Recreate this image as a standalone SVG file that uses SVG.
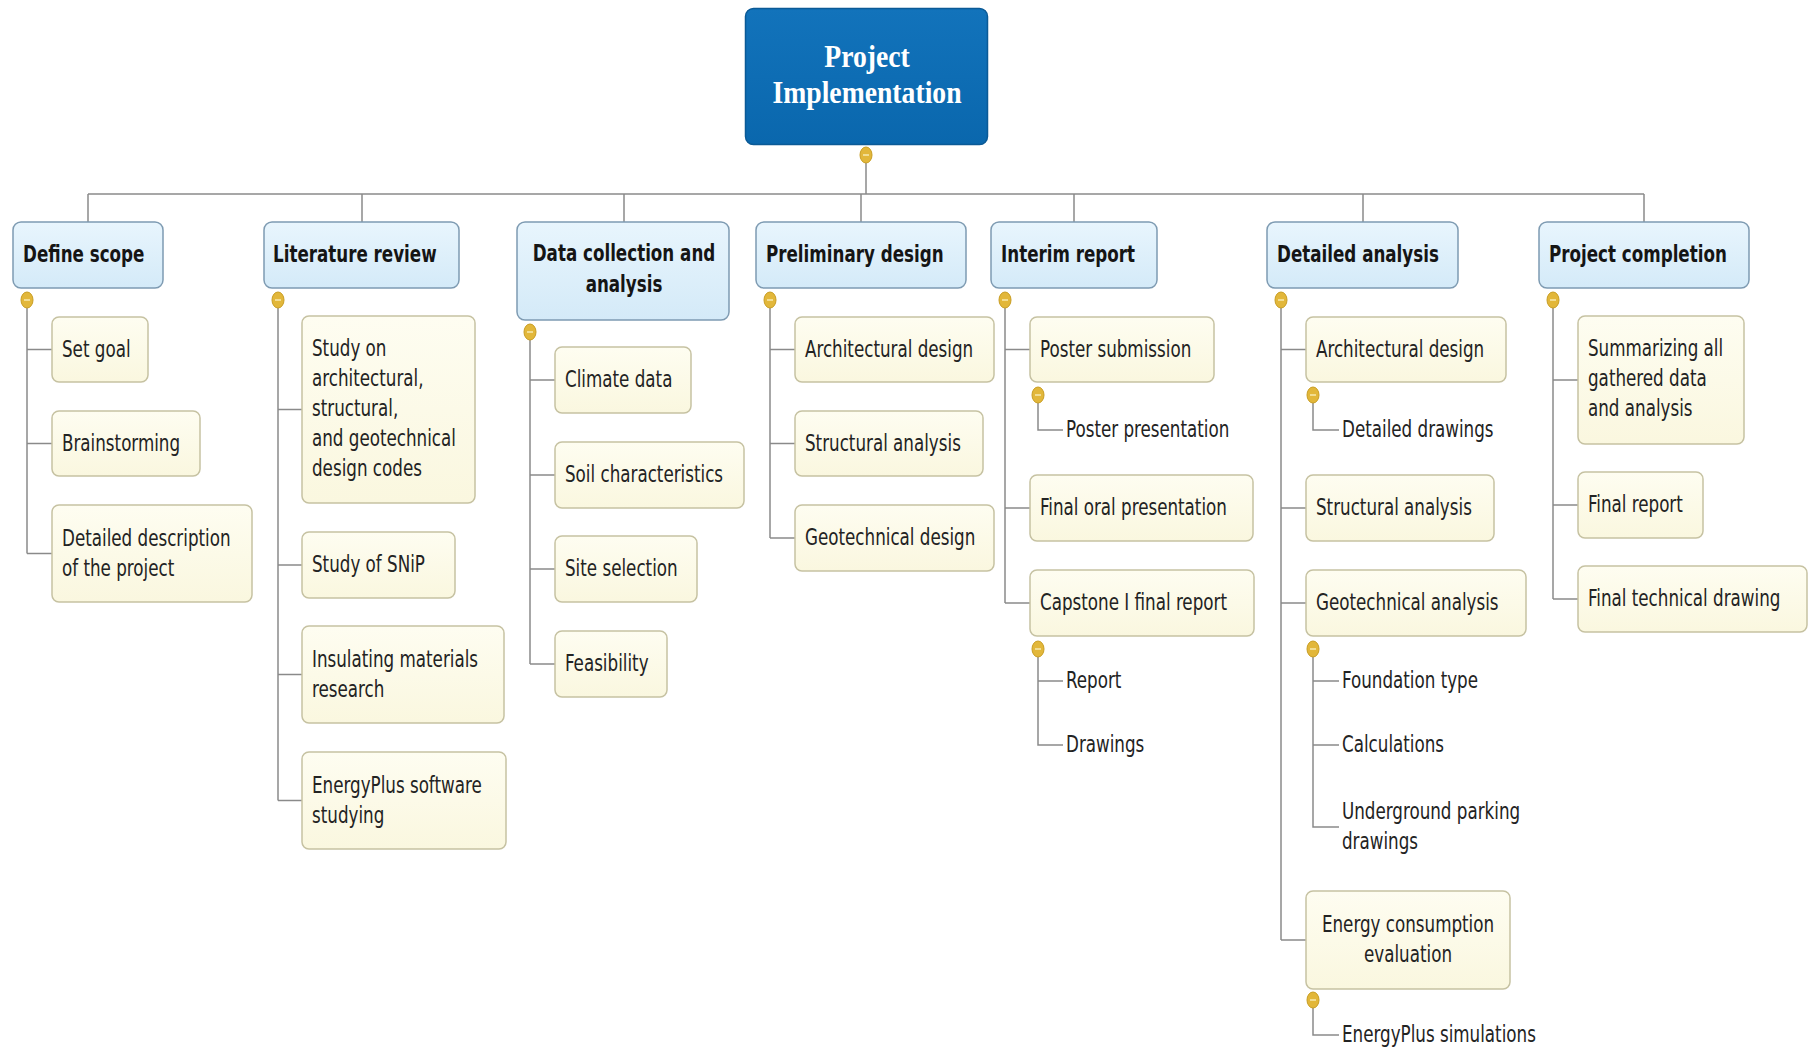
<svg xmlns="http://www.w3.org/2000/svg" width="1809" height="1049" viewBox="0 0 1809 1049">
  <defs>
    <linearGradient id="gRoot" x1="0" y1="0" x2="0" y2="1">
      <stop offset="0" stop-color="#1273bb"/>
      <stop offset="1" stop-color="#0a67ad"/>
    </linearGradient>
    <linearGradient id="gTopic" x1="0" y1="0" x2="0" y2="1">
      <stop offset="0" stop-color="#e8f5fd"/>
      <stop offset="1" stop-color="#d4eaf8"/>
    </linearGradient>
    <linearGradient id="gSub" x1="0" y1="0" x2="0" y2="1">
      <stop offset="0" stop-color="#fefdf1"/>
      <stop offset="1" stop-color="#faf7df"/>
    </linearGradient>
    <!-- collapse knob: yellow oval with a minus sign -->
    <g id="knob">
      <ellipse cx="0" cy="0" rx="6" ry="8" fill="#e2b73a" stroke="#c99e24" stroke-width="1"/>
      <line x1="-3" y1="0" x2="3" y2="0" stroke="#f6e7a9" stroke-width="1.6"/>
    </g>
  </defs>
  <style>
    .root { fill: url(#gRoot); stroke: #0b5a96; stroke-width: 1.5; }
    .topic { fill: url(#gTopic); stroke: #7e9bb2; stroke-width: 1.5; }
    .sub { fill: url(#gSub); stroke: #c6c2a2; stroke-width: 1.5; }
    .ln { fill: none; stroke: #8a8a8a; stroke-width: 1.5; }
    .rt { font-family: "Liberation Serif", "DejaVu Serif", serif; font-weight: bold; font-size: 27.7px; fill: #ffffff; text-anchor: middle; }
    .t { font-family: "DejaVu Sans Condensed", "DejaVu Sans", sans-serif; font-stretch: condensed; font-size: 18.6px; fill: #232323; }
    .h { font-weight: bold; font-size: 18.6px; fill: #151515; }
    .c { text-anchor: middle; }
  </style>

  <rect width="1809" height="1049" fill="#ffffff"/>

  <!-- connectors -->
  <g id="connectors" class="ln">
    <!-- root to bus -->
    <path d="M866 163 V194"/>
    <path d="M88 194 H1644"/>
    <path d="M88 194 V222 M362 194 V222 M624 194 V222 M861 194 V222 M1074 194 V222 M1363 194 V222 M1644 194 V222"/>
    <!-- Define scope -->
    <path d="M27 308 V553.5 M27 349.5 H52 M27 443.5 H52 M27 553.5 H52"/>
    <!-- Literature review -->
    <path d="M278 308 V800.5 M278 409.5 H302 M278 565 H302 M278 674.5 H302 M278 800.5 H302"/>
    <!-- Data collection and analysis -->
    <path d="M530 340 V664 M530 380 H555 M530 475 H555 M530 569 H555 M530 664 H555"/>
    <!-- Preliminary design -->
    <path d="M770 308 V538 M770 349.5 H795 M770 443.5 H795 M770 538 H795"/>
    <!-- Interim report -->
    <path d="M1005 308 V603 M1005 349.5 H1030 M1005 508 H1030 M1005 603 H1030"/>
    <path d="M1038 403 V430 H1063"/>
    <path d="M1038 657 V745 H1063 M1038 681 H1063"/>
    <!-- Detailed analysis -->
    <path d="M1281 308 V940 M1281 349.5 H1306 M1281 508 H1306 M1281 603 H1306 M1281 940 H1306"/>
    <path d="M1313 403 V430 H1339"/>
    <path d="M1313 657 V827 H1339 M1313 681 H1339 M1313 745 H1339"/>
    <path d="M1313 1008 V1035 H1339"/>
    <!-- Project completion -->
    <path d="M1553 308 V599 M1553 380 H1578 M1553 505 H1578 M1553 599 H1578"/>
  </g>

  <!-- central topic -->
  <g id="project-implementation">
    <rect class="root" x="745.5" y="8.5" width="242" height="136" rx="8"/>
    <text class="rt" transform="translate(867 66.5) scale(1 1.15)">Project</text>
    <text class="rt" transform="translate(867 102.5) scale(1 1.15)">Implementation</text>
    <use href="#knob" x="866" y="155"/>
  </g>

  <!-- main topics -->
  <g id="define-scope">
    <rect class="topic" x="13" y="222" width="150" height="66" rx="8"/>
    <text class="t h" transform="translate(23 261.5) scale(1 1.25)">Define scope</text>
    <use href="#knob" x="27" y="300"/>
  </g>
  <g id="literature-review">
    <rect class="topic" x="264" y="222" width="195" height="66" rx="8"/>
    <text class="t h" transform="translate(273 261.5) scale(1 1.25)">Literature review</text>
    <use href="#knob" x="278" y="300"/>
  </g>
  <g id="data-collection">
    <rect class="topic" x="517" y="222" width="212" height="98" rx="8"/>
    <text class="t h c" transform="translate(624 261) scale(1 1.25)"><tspan x="0" y="0">Data collection and</tspan><tspan x="0" y="24.8">analysis</tspan></text>
    <use href="#knob" x="530" y="332"/>
  </g>
  <g id="preliminary-design">
    <rect class="topic" x="756" y="222" width="210" height="66" rx="8"/>
    <text class="t h" transform="translate(766 261.5) scale(1 1.25)">Preliminary design</text>
    <use href="#knob" x="770" y="300"/>
  </g>
  <g id="interim-report">
    <rect class="topic" x="991" y="222" width="166" height="66" rx="8"/>
    <text class="t h" transform="translate(1001 261.5) scale(1 1.25)">Interim report</text>
    <use href="#knob" x="1005" y="300"/>
  </g>
  <g id="detailed-analysis">
    <rect class="topic" x="1267" y="222" width="191" height="66" rx="8"/>
    <text class="t h" transform="translate(1277 261.5) scale(1 1.25)">Detailed analysis</text>
    <use href="#knob" x="1281" y="300"/>
  </g>
  <g id="project-completion">
    <rect class="topic" x="1539" y="222" width="210" height="66" rx="8"/>
    <text class="t h" transform="translate(1549 261.5) scale(1 1.25)">Project completion</text>
    <use href="#knob" x="1553" y="300"/>
  </g>

  <!-- Define scope subtopics -->
  <g id="set-goal">
    <rect class="sub" x="52" y="317" width="96" height="65" rx="7"/>
    <text class="t" transform="translate(62 356.5) scale(1 1.28)">Set goal</text>
  </g>
  <g id="brainstorming">
    <rect class="sub" x="52" y="411" width="148" height="65" rx="7"/>
    <text class="t" transform="translate(62 450.5) scale(1 1.28)">Brainstorming</text>
  </g>
  <g id="detailed-description">
    <rect class="sub" x="52" y="505" width="200" height="97" rx="7"/>
    <text class="t" transform="translate(62 545.5) scale(1 1.28)"><tspan x="0" y="0">Detailed description</tspan><tspan x="0" y="23.6">of the project</tspan></text>
  </g>

  <!-- Literature review subtopics -->
  <g id="design-codes">
    <rect class="sub" x="302" y="316" width="173" height="187" rx="7"/>
    <text class="t" transform="translate(312 355.5) scale(1 1.28)"><tspan x="0" y="0">Study on</tspan><tspan x="0" y="23.6">architectural,</tspan><tspan x="0" y="47.2">structural,</tspan><tspan x="0" y="70.8">and geotechnical</tspan><tspan x="0" y="94.4">design codes</tspan></text>
  </g>
  <g id="study-snip">
    <rect class="sub" x="302" y="532" width="153" height="66" rx="7"/>
    <text class="t" transform="translate(312 572) scale(1 1.28)">Study of SNiP</text>
  </g>
  <g id="insulating-materials">
    <rect class="sub" x="302" y="626" width="202" height="97" rx="7"/>
    <text class="t" transform="translate(312 666.5) scale(1 1.28)"><tspan x="0" y="0">Insulating materials</tspan><tspan x="0" y="23.6">research</tspan></text>
  </g>
  <g id="energyplus-study">
    <rect class="sub" x="302" y="752" width="204" height="97" rx="7"/>
    <text class="t" transform="translate(312 792.5) scale(1 1.28)"><tspan x="0" y="0">EnergyPlus software</tspan><tspan x="0" y="23.6">studying</tspan></text>
  </g>

  <!-- Data collection subtopics -->
  <g id="climate-data">
    <rect class="sub" x="555" y="347" width="136" height="66" rx="7"/>
    <text class="t" transform="translate(565 387) scale(1 1.28)">Climate data</text>
  </g>
  <g id="soil-characteristics">
    <rect class="sub" x="555" y="442" width="189" height="66" rx="7"/>
    <text class="t" transform="translate(565 482) scale(1 1.28)">Soil characteristics</text>
  </g>
  <g id="site-selection">
    <rect class="sub" x="555" y="536" width="142" height="66" rx="7"/>
    <text class="t" transform="translate(565 576) scale(1 1.28)">Site selection</text>
  </g>
  <g id="feasibility">
    <rect class="sub" x="555" y="631" width="112" height="66" rx="7"/>
    <text class="t" transform="translate(565 671) scale(1 1.28)">Feasibility</text>
  </g>

  <!-- Preliminary design subtopics -->
  <g id="pre-architectural">
    <rect class="sub" x="795" y="317" width="199" height="65" rx="7"/>
    <text class="t" transform="translate(805 356.5) scale(1 1.28)">Architectural design</text>
  </g>
  <g id="pre-structural">
    <rect class="sub" x="795" y="411" width="188" height="65" rx="7"/>
    <text class="t" transform="translate(805 450.5) scale(1 1.28)">Structural analysis</text>
  </g>
  <g id="pre-geotechnical">
    <rect class="sub" x="795" y="505" width="199" height="66" rx="7"/>
    <text class="t" transform="translate(805 545) scale(1 1.28)">Geotechnical design</text>
  </g>

  <!-- Interim report subtopics -->
  <g id="poster-submission">
    <rect class="sub" x="1030" y="317" width="184" height="65" rx="7"/>
    <text class="t" transform="translate(1040 356.5) scale(1 1.28)">Poster submission</text>
    <use href="#knob" x="1038" y="395"/>
  </g>
  <g id="poster-presentation">
    <text class="t" transform="translate(1066 436.5) scale(1 1.28)">Poster presentation</text>
  </g>
  <g id="final-oral">
    <rect class="sub" x="1030" y="475" width="223" height="66" rx="7"/>
    <text class="t" transform="translate(1040 515) scale(1 1.28)">Final oral presentation</text>
  </g>
  <g id="capstone-report">
    <rect class="sub" x="1030" y="570" width="224" height="66" rx="7"/>
    <text class="t" transform="translate(1040 610) scale(1 1.28)">Capstone I final report</text>
    <use href="#knob" x="1038" y="649"/>
  </g>
  <g id="report">
    <text class="t" transform="translate(1066 687.5) scale(1 1.28)">Report</text>
  </g>
  <g id="drawings">
    <text class="t" transform="translate(1066 751.5) scale(1 1.28)">Drawings</text>
  </g>

  <!-- Detailed analysis subtopics -->
  <g id="det-architectural">
    <rect class="sub" x="1306" y="317" width="200" height="65" rx="7"/>
    <text class="t" transform="translate(1316 356.5) scale(1 1.28)">Architectural design</text>
    <use href="#knob" x="1313" y="395"/>
  </g>
  <g id="detailed-drawings">
    <text class="t" transform="translate(1342 436.5) scale(1 1.28)">Detailed drawings</text>
  </g>
  <g id="det-structural">
    <rect class="sub" x="1306" y="475" width="188" height="66" rx="7"/>
    <text class="t" transform="translate(1316 515) scale(1 1.28)">Structural analysis</text>
  </g>
  <g id="det-geotechnical">
    <rect class="sub" x="1306" y="570" width="220" height="66" rx="7"/>
    <text class="t" transform="translate(1316 610) scale(1 1.28)">Geotechnical analysis</text>
    <use href="#knob" x="1313" y="649"/>
  </g>
  <g id="foundation-type">
    <text class="t" transform="translate(1342 687.5) scale(1 1.28)">Foundation type</text>
  </g>
  <g id="calculations">
    <text class="t" transform="translate(1342 751.5) scale(1 1.28)">Calculations</text>
  </g>
  <g id="underground-parking">
    <text class="t" transform="translate(1342 818.5) scale(1 1.28)"><tspan x="0" y="0">Underground parking</tspan><tspan x="0" y="23.6">drawings</tspan></text>
  </g>
  <g id="energy-consumption">
    <rect class="sub" x="1306" y="891" width="204" height="98" rx="7"/>
    <text class="t c" transform="translate(1408 932) scale(1 1.28)"><tspan x="0" y="0">Energy consumption</tspan><tspan x="0" y="23.6">evaluation</tspan></text>
    <use href="#knob" x="1313" y="1000"/>
  </g>
  <g id="energyplus-simulations">
    <text class="t" transform="translate(1342 1041.5) scale(1 1.28)">EnergyPlus simulations</text>
  </g>

  <!-- Project completion subtopics -->
  <g id="summarizing">
    <rect class="sub" x="1578" y="316" width="166" height="128" rx="7"/>
    <text class="t" transform="translate(1588 355.5) scale(1 1.28)"><tspan x="0" y="0">Summarizing all</tspan><tspan x="0" y="23.6">gathered data</tspan><tspan x="0" y="47.2">and analysis</tspan></text>
  </g>
  <g id="final-report">
    <rect class="sub" x="1578" y="472" width="125" height="66" rx="7"/>
    <text class="t" transform="translate(1588 512) scale(1 1.28)">Final report</text>
  </g>
  <g id="final-drawing">
    <rect class="sub" x="1578" y="566" width="229" height="66" rx="7"/>
    <text class="t" transform="translate(1588 606) scale(1 1.28)">Final technical drawing</text>
  </g>
</svg>
